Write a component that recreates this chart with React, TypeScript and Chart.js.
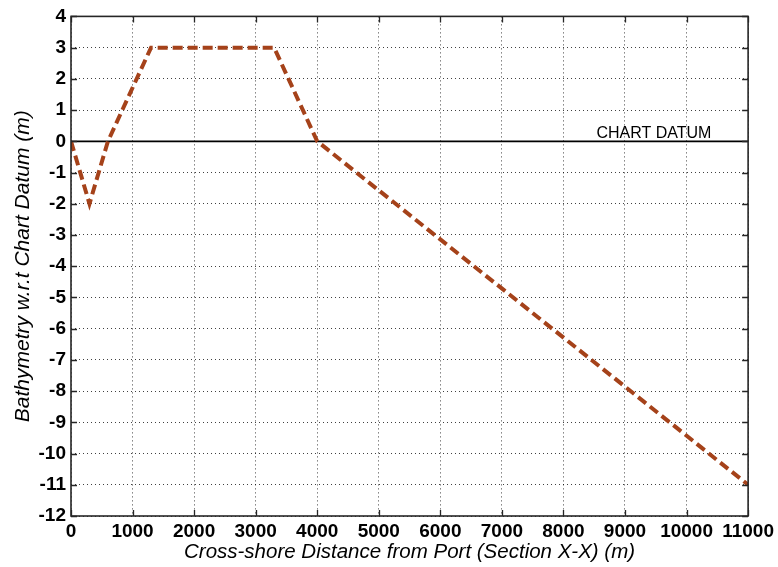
import React, { useEffect, useRef } from "react";
import { Chart, registerables } from "chart.js";

Chart.register(...registerables);

// Cross-shore profile of the bed level along Section X-X
const distances = [0, 300, 600, 1300, 3300, 4000, 11000];
const bedLevels = [0, -2, 0, 3, 3, 0, -11];

// Chart datum reference line
const datumX = [0, 11000];
const datumY = [0, 0];
const datumLabel = "CHART DATUM";
const datumLabelX = 9470;

const xTitle = "Cross-shore Distance from Port (Section X-X) (m)";
const yTitle = "Bathymetry w.r.t Chart Datum (m)";

const FONT = "'Liberation Sans', Arial, Helvetica, sans-serif";

const framePlugin = {
  id: "frameAndTicks",
  afterDatasetsDraw(chart: any) {
    const { ctx, chartArea, scales } = chart;
    const { left, right, top, bottom } = chartArea;
    const xs = scales.x;
    const ys = scales.y;
    const tick = 6;
    ctx.save();
    ctx.strokeStyle = "#262626";
    ctx.lineWidth = 1.3;
    ctx.setLineDash([]);
    ctx.beginPath();
    xs.ticks.forEach((t: any) => {
      const px = Math.round(xs.getPixelForValue(t.value)) + 0.5;
      ctx.moveTo(px, bottom);
      ctx.lineTo(px, bottom - tick);
      ctx.moveTo(px, top);
      ctx.lineTo(px, top + tick);
    });
    ys.ticks.forEach((t: any) => {
      const py = Math.round(ys.getPixelForValue(t.value)) + 0.5;
      ctx.moveTo(left, py);
      ctx.lineTo(left + tick, py);
      ctx.moveTo(right, py);
      ctx.lineTo(right - tick, py);
    });
    ctx.stroke();
    ctx.lineWidth = 1.6;
    ctx.strokeRect(left, top, right - left, bottom - top);

    // datum label
    ctx.fillStyle = "#000";
    ctx.font = `16px ${FONT}`;
    ctx.textAlign = "center";
    ctx.textBaseline = "alphabetic";
    ctx.fillText(datumLabel, xs.getPixelForValue(datumLabelX), ys.getPixelForValue(0) - 3);
    ctx.restore();
  },
};

export default function App() {
  const canvasRef = useRef<HTMLCanvasElement | null>(null);

  useEffect(() => {
    const canvas = canvasRef.current;
    if (!canvas) return;
    const chart = new Chart(canvas, {
      type: "line",
      data: {
        datasets: [
          {
            label: "Bed level",
            data: distances.map((x, i) => ({ x, y: bedLevels[i] })),
            borderColor: "#A5421A",
            borderWidth: 4,
            borderDash: [10, 5],
            pointRadius: 0,
            fill: false,
            tension: 0,
            order: 1,
          },
          {
            label: datumLabel,
            data: datumX.map((x, i) => ({ x, y: datumY[i] })),
            borderColor: "#000",
            borderWidth: 1.8,
            pointRadius: 0,
            fill: false,
            order: 2,
          },
        ],
      },
      options: {
        responsive: false,
        animation: false,
        devicePixelRatio: 1,
        layout: { padding: { top: 16, right: 29, left: 0, bottom: 0 } },
        plugins: {
          legend: { display: false },
          tooltip: { enabled: false },
        },
        scales: {
          x: {
            type: "linear",
            min: 0,
            max: 11000,
            ticks: {
              stepSize: 1000,
              autoSkip: false,
              maxRotation: 0,
              padding: 4,
              color: "#000",
              font: { family: FONT, size: 19, weight: "bold" },
              callback: (v: any) => String(v),
            },
            grid: {
              drawTicks: false,
              color: "rgba(0,0,0,0.75)",
              lineWidth: 1,
            },
            border: { display: false, dash: [1, 3] },
            title: {
              display: true,
              text: xTitle,
              color: "#000",
              font: { family: FONT, size: 20.5, style: "italic" },
              padding: { top: 0, bottom: 2 },
            },
            afterFit(scale: any) {
              scale.height = 51;
            },
          },
          y: {
            type: "linear",
            min: -12,
            max: 4,
            ticks: {
              stepSize: 1,
              autoSkip: false,
              padding: 5,
              color: "#000",
              font: { family: FONT, size: 19, weight: "bold" },
              callback: (v: any) => String(v),
            },
            grid: {
              drawTicks: false,
              color: "rgba(0,0,0,0.75)",
              lineWidth: 1,
            },
            border: { display: false, dash: [1, 3] },
            title: {
              display: true,
              text: yTitle,
              color: "#000",
              font: { family: FONT, size: 21, style: "italic" },
              padding: { top: 11, bottom: 0 },
            },
            afterFit(scale: any) {
              scale.width = 71;
            },
          },
        },
      },
      plugins: [framePlugin],
    } as any);
    return () => chart.destroy();
  }, []);

  return (
    <div style={{ position: "fixed", left: 0, top: 0, width: 778, height: 567, background: "#fff" }}>
      <canvas ref={canvasRef} width={778} height={567} style={{ display: "block" }} />
    </div>
  );
}
